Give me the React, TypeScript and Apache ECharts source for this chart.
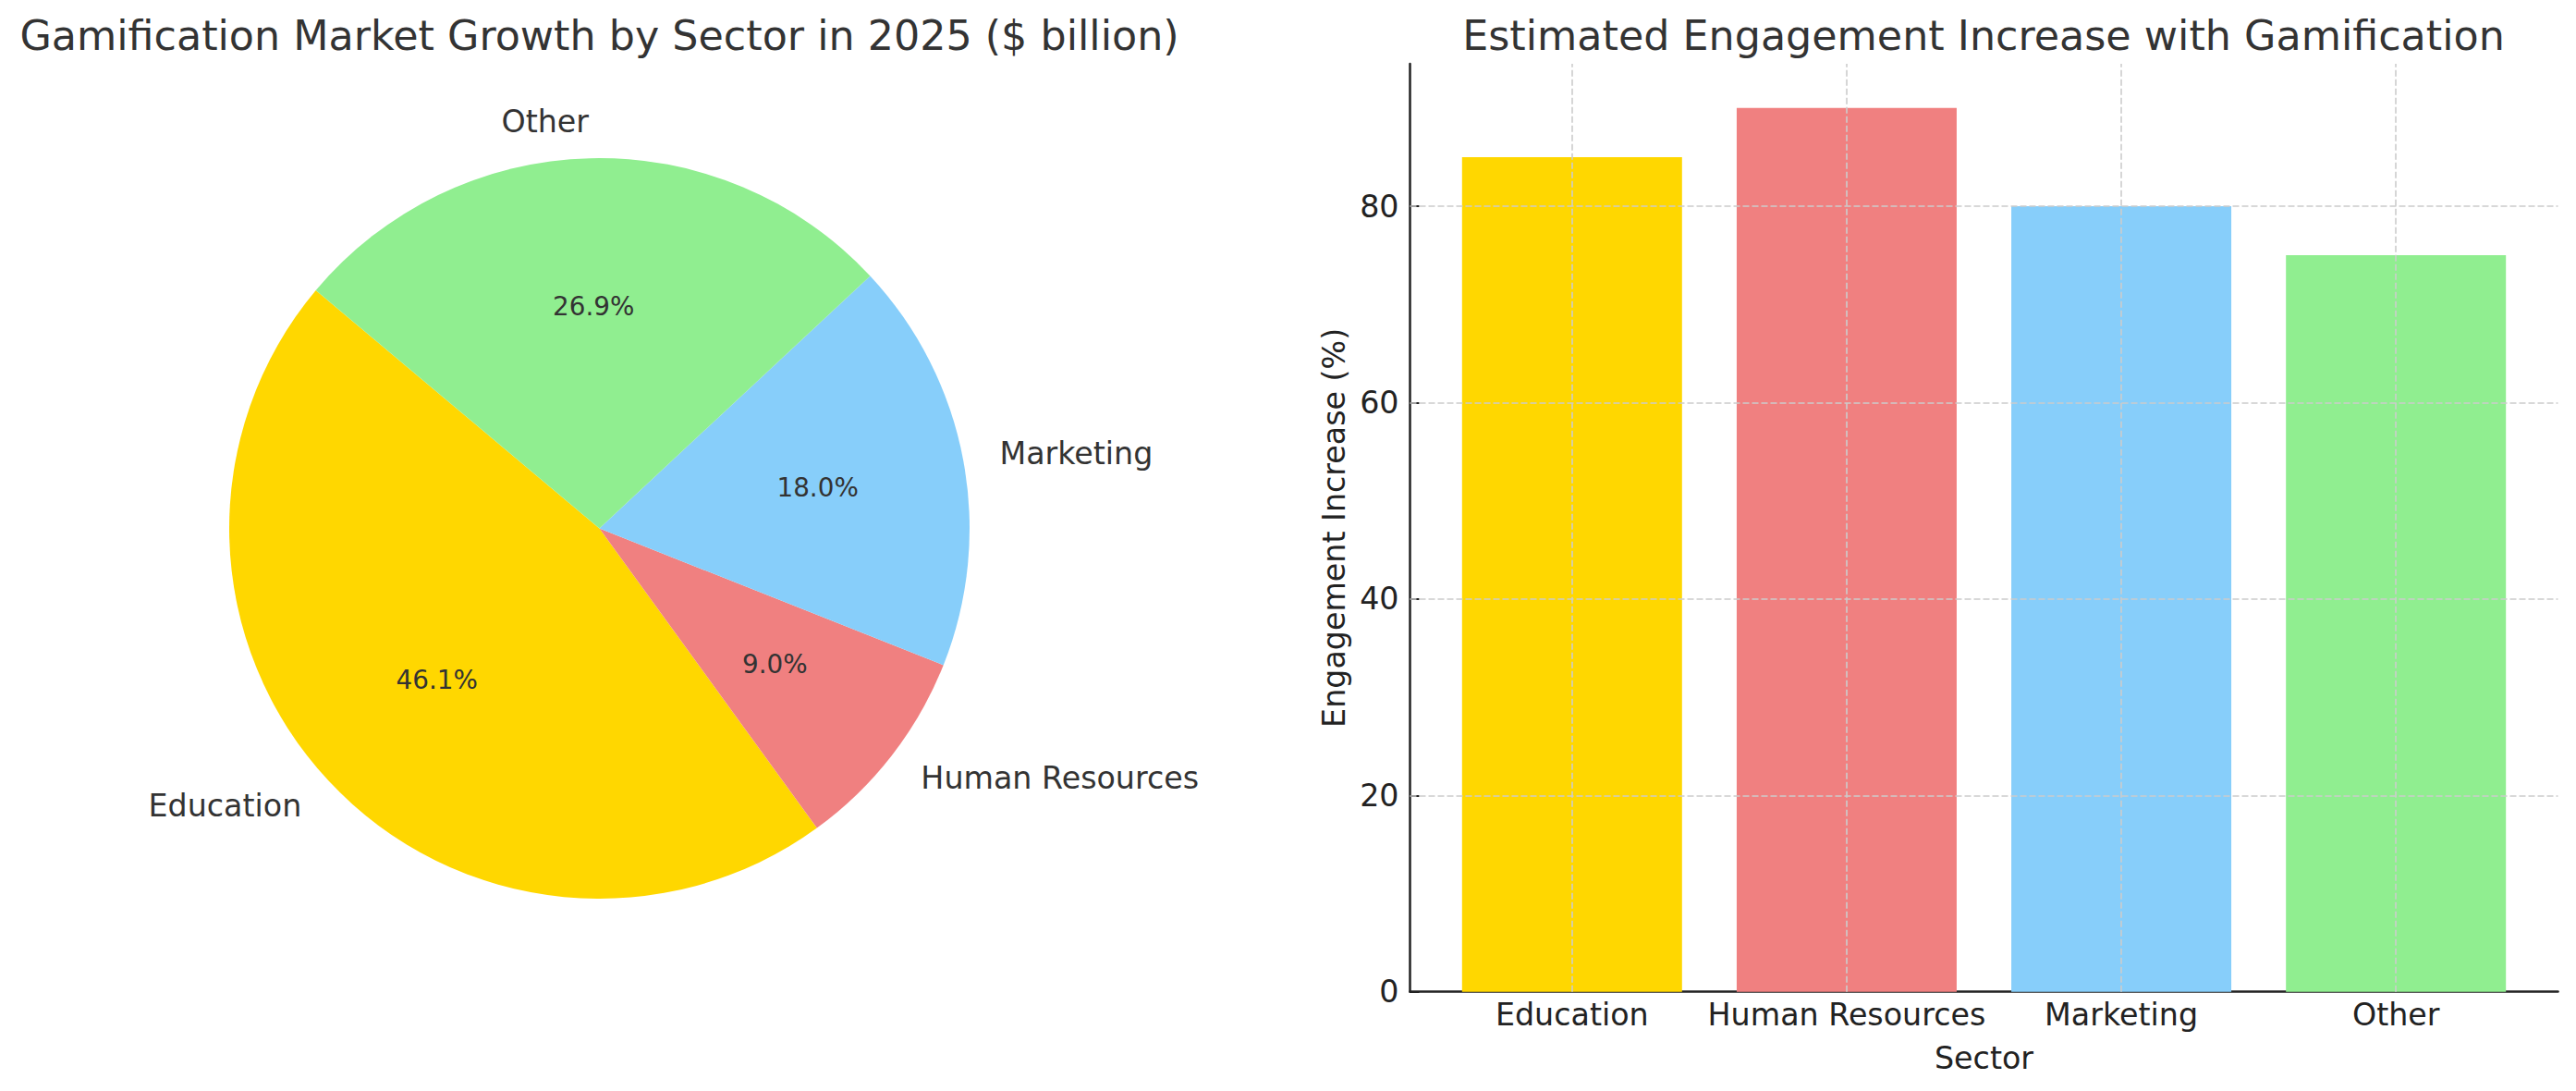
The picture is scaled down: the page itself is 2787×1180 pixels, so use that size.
import { useEffect, useRef } from "react";
import * as echarts from "echarts";

const sectors = ["Education", "Human Resources", "Marketing", "Other"];
const marketSize = [15.4, 3, 6, 9];
const engagement = [85, 90, 80, 75];
const sectorColors = ["#FFD700", "#F08080", "#87CEFA", "#90EE90"];
const yTicks = [0, 20, 40, 60, 80];
const xTicks = [0, 1, 2, 3];

const FONT = "DejaVu Sans";
const TEXT = "#333333";
const INK = "#222222";
const GRID = "#cccccc";

export default function App() {
  const ref = useRef<HTMLDivElement>(null);

  useEffect(() => {
    document.body.style.margin = "0";
    if (!ref.current) return;
    const chart = echarts.init(ref.current, undefined, { renderer: "svg" });

    const pieData = sectors.map((name, i) => ({
      name,
      value: marketSize[i],
      itemStyle: { color: sectorColors[i] },
    }));

    chart.setOption({
      animation: false,
      backgroundColor: "#ffffff",
      textStyle: { fontFamily: FONT },
      graphic: [
        {
          type: "text",
          x: 648.5,
          y: 38,
          style: {
            text: "Gamification Market Growth by Sector in 2025 ($ billion)",
            align: "center",
            verticalAlign: "middle",
            fontFamily: FONT,
            fontSize: 44.4,
            fill: TEXT,
          },
        },
        {
          type: "text",
          x: 2146,
          y: 38,
          style: {
            text: "Estimated Engagement Increase with Gamification",
            align: "center",
            verticalAlign: "middle",
            fontFamily: FONT,
            fontSize: 44.4,
            fill: TEXT,
          },
        },
      ],
      grid: { left: 1525.5, top: 69, width: 1242, height: 1003.7 },
      xAxis: {
        type: "value",
        min: -0.59,
        max: 3.59,
        name: "Sector",
        nameLocation: "middle",
        nameGap: 55,
        nameTextStyle: { fontFamily: FONT, fontSize: 33.3, color: INK },
        axisLine: { onZero: false, lineStyle: { color: INK, width: 2.5 } },
        axisTick: {
          show: true,
          inside: true,
          length: 10,
          customValues: xTicks,
          lineStyle: { color: INK, width: 2 },
        },
        axisLabel: {
          customValues: xTicks,
          margin: 8,
          fontFamily: FONT,
          fontSize: 33.3,
          color: INK,
          formatter: (v: number) => sectors[Math.round(v)] ?? "",
        },
        splitLine: { show: false },
      },
      yAxis: {
        type: "value",
        min: 0,
        max: 94.5,
        name: "Engagement Increase (%)",
        nameLocation: "middle",
        nameGap: 66,
        nameTextStyle: { fontFamily: FONT, fontSize: 33.3, color: INK },
        axisLine: { show: true, onZero: false, lineStyle: { color: INK, width: 2.5 } },
        axisTick: {
          show: true,
          inside: true,
          length: 10,
          customValues: yTicks,
          lineStyle: { color: INK, width: 2 },
        },
        axisLabel: {
          customValues: yTicks,
          margin: 12,
          fontFamily: FONT,
          fontSize: 33.3,
          color: INK,
        },
        splitLine: { show: false },
      },
      series: [
        {
          type: "pie",
          center: [648.5, 571.5],
          radius: 400.5,
          startAngle: 140,
          clockwise: false,
          avoidLabelOverlap: false,
          silent: true,
          data: pieData,
          label: {
            show: true,
            position: "outside",
            formatter: "{b}",
            fontFamily: FONT,
            fontSize: 33.3,
            color: TEXT,
            distanceToLabelLine: 0,
          },
          labelLine: { show: false, length: 40, length2: 0 },
        },
        {
          type: "pie",
          center: [648.5, 571.5],
          radius: [200, 274.6],
          startAngle: 140,
          clockwise: false,
          avoidLabelOverlap: false,
          silent: true,
          percentPrecision: 1,
          data: sectors.map((name, i) => ({
            name,
            value: marketSize[i],
            itemStyle: { color: "rgba(0,0,0,0)" },
          })),
          label: {
            show: true,
            position: "inside",
            formatter: (p: { percent: number }) => `${p.percent.toFixed(1)}%`,
            fontFamily: FONT,
            fontSize: 27.8,
            color: TEXT,
          },
          labelLine: { show: false },
        },
        {
          type: "bar",
          barWidth: 238,
          data: engagement.map((v, i) => ({
            value: [i, v],
            itemStyle: { color: sectorColors[i] },
          })),
          markLine: {
            silent: true,
            symbol: "none",
            z: 10,
            label: { show: false },
            lineStyle: { color: GRID, width: 1.6, type: [7, 3] },
            data: [
              ...xTicks.map((x) => ({ xAxis: x })),
              ...yTicks.filter((y) => y > 0).map((y) => ({ yAxis: y })),
            ],
          },
        },
      ],
    });

    return () => chart.dispose();
  }, []);

  return <div ref={ref} style={{ width: 2787, height: 1180 }} />;
}
